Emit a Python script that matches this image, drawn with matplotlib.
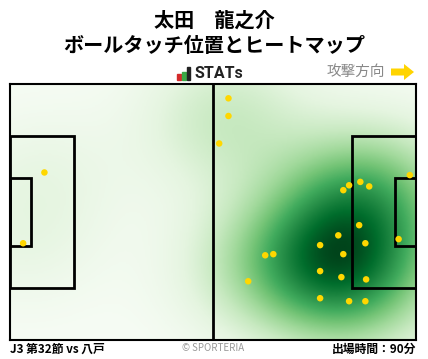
import numpy as np
import matplotlib
matplotlib.use("Agg")
import matplotlib.pyplot as plt
from matplotlib.patches import Rectangle, FancyArrow

plt.rcParams['font.family'] = ['Noto Sans CJK JP', 'DejaVu Sans']

# touch positions (m), pitch 105 x 68, y measured from top
touch_x = [56.5, 56.5, 54.1, 103.4, 86.2, 87.7, 90.6, 92.9, 90.3, 84.9, 80.2, 91.9,
           100.5, 66.0, 68.1, 86.2, 80.2, 85.7, 92.1, 61.6, 80.2, 87.7, 91.9, 8.9, 3.4]
touch_y = [3.8, 8.5, 15.8, 24.2, 28.2, 26.9, 26.0, 27.2, 37.5, 40.2, 42.8, 42.3,
           41.2, 45.5, 45.2, 45.2, 49.7, 51.3, 51.9, 52.4, 56.9, 57.7, 57.7, 23.5, 42.3]

title = "太田　龍之介\nボールタッチ位置とヒートマップ"
match_label = "J3 第32節 vs 八戸"
minutes_label = "出場時間：90分"

L, W = 105.0, 68.0

fig = plt.figure(figsize=(4.28, 3.59), dpi=100)
W_px, H_px = 428, 359

# heatmap (gaussian kde on grid)
px = np.array(touch_x)
py = np.array(touch_y)
gx, gy = np.meshgrid(np.linspace(0, L, 300), np.linspace(0, W, 200))
bx, by = 15.0, 12.5
dens = np.zeros_like(gx)
for xi, yi in zip(px, py):
    dens += np.exp(-0.5 * (((gx - xi) / bx) ** 2 + ((gy - yi) / by) ** 2))
dens /= dens.max()

ax = fig.add_axes([10 / W_px, 19 / H_px, 406 / W_px, 256 / H_px])
ax.imshow(dens, extent=[0, L, W, 0], cmap='Greens', vmin=0, vmax=1.0,
          interpolation='bilinear', aspect='auto', zorder=0)
ax.set_xlim(0, L)
ax.set_ylim(W, 0)
ax.set_xticks([])
ax.set_yticks([])
for s in ax.spines.values():
    s.set_linewidth(1.5)
    s.set_color('black')

lw = 2
ax.plot([L / 2, L / 2], [0, W], color='black', lw=lw)
# penalty and goal areas
for x0, w in [(0, 16.5), (L - 16.5, 16.5)]:
    ax.add_patch(Rectangle((x0, W / 2 - 20.16), w, 40.32, fill=False, lw=lw, ec='black'))
for x0, w in [(0, 5.5), (L - 5.5, 5.5)]:
    ax.add_patch(Rectangle((x0, W / 2 - 9.16), w, 18.32, fill=False, lw=lw, ec='black'))

ax.scatter(px, py, s=22, color='#FFD700', edgecolors='none', zorder=5, clip_on=True)

# header
fig.text(0.5, 1 - 33 / H_px, title, ha='center', va='center', fontsize=14.5,
         fontweight='bold', linespacing=1.25)

# STATs logo
hax = fig.add_axes([0, 0, 1, 1], facecolor='none')
hax.set_xlim(0, W_px)
hax.set_ylim(H_px, 0)
hax.axis('off')
hax.add_patch(Rectangle((177, 74), 4, 6, color='#d42a2a'))
hax.add_patch(Rectangle((182, 72), 4, 8, color='#3aa845'))
hax.add_patch(Rectangle((187, 67), 3, 13, color='#222222'))
hax.text(195, 74, "STATs", ha='left', va='center', fontsize=11.5, fontweight='bold',
         color='#222222', family=['Roboto', 'DejaVu Sans'])
hax.text(385, 72, "攻撃方向", ha='right', va='center', fontsize=10.5, color='#888888')
hax.add_patch(FancyArrow(391, 72, 13, 0, width=7, head_width=16, head_length=10,
                         length_includes_head=False, color='#FFD400', lw=0))

# footer
hax.text(10, 349, match_label, ha='left', va='center', fontsize=8.5, fontweight='bold')
hax.text(213, 348, "© SPORTERIA", ha='center', va='center', fontsize=7, color='#999999')
hax.text(416, 349, minutes_label, ha='right', va='center', fontsize=8.5, fontweight='bold')

fig.savefig("out.png", dpi=100)
